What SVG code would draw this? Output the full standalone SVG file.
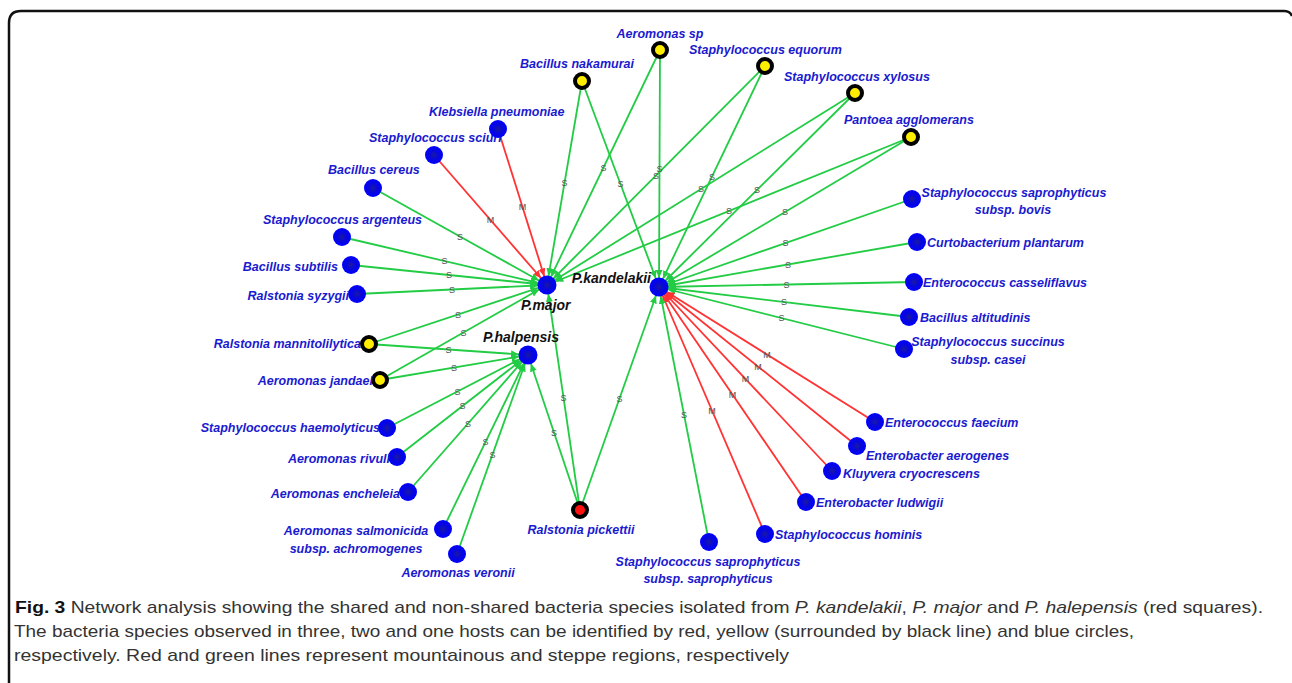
<svg xmlns="http://www.w3.org/2000/svg" width="1292" height="683" viewBox="0 0 1292 683">
<style>
.g{stroke:#22cc44;stroke-width:1.8;fill:none;marker-end:url(#ag)}
.r{stroke:#ff3333;stroke-width:1.8;fill:none;marker-end:url(#ar)}
.el{font-family:"Liberation Sans",Arial,sans-serif;font-size:9px;fill:#555;text-anchor:middle;dominant-baseline:central}
.nl{font-family:"Liberation Sans",Arial,sans-serif;font-size:12.5px;font-weight:bold;font-style:italic;fill:#1a1ad0}
.hl{font-family:"Liberation Sans",Arial,sans-serif;font-size:14px;font-weight:bold;font-style:italic;fill:#111}
.b{fill:url(#bg)}
.y{fill:#ffee00;stroke:#000;stroke-width:4}
.rd{fill:#ff1111;stroke:#000;stroke-width:4}
.cap{font-family:"Liberation Sans",Arial,sans-serif;font-size:17px;fill:#333}
.m{text-anchor:middle}
.e{text-anchor:end}
</style>
<defs>
<radialGradient id="bg"><stop offset="0" stop-color="#1a1aa0"/><stop offset="0.45" stop-color="#0808d8"/><stop offset="1" stop-color="#0000ff"/></radialGradient>
<marker id="ag" markerUnits="userSpaceOnUse" markerWidth="10" markerHeight="8" refX="17" refY="3.5" orient="auto"><path d="M0,0 L8,3.5 L0,7 z" fill="#22cc44"/></marker>
<marker id="ar" markerUnits="userSpaceOnUse" markerWidth="10" markerHeight="8" refX="17" refY="3.5" orient="auto"><path d="M0,0 L8,3.5 L0,7 z" fill="#ff3333"/></marker>
</defs>
<rect width="1292" height="683" fill="#fff"/>
<path d="M9,683 V23 Q9,11 21,11 H1284 Q1290,11 1292,16" fill="none" stroke="#111" stroke-width="2.5"/>

<g id="connectors">
<line class="r" x1="498" y1="129" x2="547" y2="285"/>
<line class="r" x1="434" y1="155" x2="547" y2="285"/>
<line class="g" x1="373" y1="188" x2="547" y2="285"/>
<line class="g" x1="342" y1="237" x2="547" y2="285"/>
<line class="g" x1="351" y1="265" x2="547" y2="285"/>
<line class="g" x1="357" y1="294" x2="547" y2="285"/>
<line class="g" x1="369" y1="344" x2="547" y2="285"/>
<line class="g" x1="380" y1="380" x2="547" y2="285"/>
<line class="g" x1="582" y1="81" x2="547" y2="285"/>
<line class="g" x1="660" y1="50" x2="547" y2="285"/>
<line class="g" x1="765" y1="66" x2="547" y2="285"/>
<line class="g" x1="855" y1="93" x2="547" y2="285"/>
<line class="g" x1="911" y1="137" x2="547" y2="285"/>
<line class="g" x1="580" y1="510" x2="547" y2="285"/>
<line class="g" x1="582" y1="81" x2="659" y2="287"/>
<line class="g" x1="660" y1="50" x2="659" y2="287"/>
<line class="g" x1="765" y1="66" x2="659" y2="287"/>
<line class="g" x1="855" y1="93" x2="659" y2="287"/>
<line class="g" x1="911" y1="137" x2="659" y2="287"/>
<line class="g" x1="912" y1="199" x2="659" y2="287"/>
<line class="g" x1="917" y1="242" x2="659" y2="287"/>
<line class="g" x1="914" y1="282" x2="659" y2="287"/>
<line class="g" x1="909" y1="317" x2="659" y2="287"/>
<line class="g" x1="904" y1="349" x2="659" y2="287"/>
<line class="r" x1="875" y1="422" x2="659" y2="287"/>
<line class="r" x1="857" y1="446" x2="659" y2="287"/>
<line class="r" x1="832" y1="471" x2="659" y2="287"/>
<line class="r" x1="806" y1="502" x2="659" y2="287"/>
<line class="r" x1="765" y1="534" x2="659" y2="287"/>
<line class="g" x1="709" y1="542" x2="659" y2="287"/>
<line class="g" x1="580" y1="510" x2="659" y2="287"/>
<line class="g" x1="369" y1="344" x2="528" y2="355"/>
<line class="g" x1="380" y1="380" x2="528" y2="355"/>
<line class="g" x1="387" y1="428" x2="528" y2="355"/>
<line class="g" x1="397" y1="457" x2="528" y2="355"/>
<line class="g" x1="408" y1="492" x2="528" y2="355"/>
<line class="g" x1="443" y1="529" x2="528" y2="355"/>
<line class="g" x1="457" y1="554" x2="528" y2="355"/>
<line class="g" x1="580" y1="510" x2="528" y2="355"/>
<g>
<text class="el" x="522.5" y="207">M</text>
<text class="el" x="490.5" y="220">M</text>
<text class="el" x="460" y="236.5">S</text>
<text class="el" x="444.5" y="261">S</text>
<text class="el" x="449" y="275">S</text>
<text class="el" x="452" y="289.5">S</text>
<text class="el" x="458" y="314.5">S</text>
<text class="el" x="463.5" y="332.5">S</text>
<text class="el" x="564.5" y="183">S</text>
<text class="el" x="603.5" y="167.5">S</text>
<text class="el" x="656" y="175.5">S</text>
<text class="el" x="701" y="189">S</text>
<text class="el" x="729" y="211">S</text>
<text class="el" x="563.5" y="397.5">S</text>
<text class="el" x="620.5" y="184">S</text>
<text class="el" x="659.5" y="168.5">S</text>
<text class="el" x="712" y="176.5">S</text>
<text class="el" x="757" y="190">S</text>
<text class="el" x="785" y="212">S</text>
<text class="el" x="785.5" y="243">S</text>
<text class="el" x="788" y="264.5">S</text>
<text class="el" x="786.5" y="284.5">S</text>
<text class="el" x="784" y="302">S</text>
<text class="el" x="781.5" y="318">S</text>
<text class="el" x="767" y="354.5">M</text>
<text class="el" x="758" y="366.5">M</text>
<text class="el" x="745.5" y="379">M</text>
<text class="el" x="732.5" y="394.5">M</text>
<text class="el" x="712" y="410.5">M</text>
<text class="el" x="684" y="414.5">S</text>
<text class="el" x="619.5" y="398.5">S</text>
<text class="el" x="448.5" y="349.5">S</text>
<text class="el" x="454" y="367.5">S</text>
<text class="el" x="457.5" y="391.5">S</text>
<text class="el" x="462.5" y="406">S</text>
<text class="el" x="468" y="423.5">S</text>
<text class="el" x="485.5" y="442">S</text>
<text class="el" x="492.5" y="454.5">S</text>
<text class="el" x="554" y="432.5">S</text>
</g>
</g>

<g id="n-aerosp"><circle class="y" cx="660" cy="50" r="7"/><text class="nl m" x="660" y="38">Aeromonas sp</text></g>
<g id="n-nakamurai"><circle class="y" cx="582" cy="81" r="7"/><text class="nl m" x="577" y="68">Bacillus nakamurai</text></g>
<g id="n-equorum"><circle class="y" cx="765" cy="66" r="7"/><text class="nl" x="689" y="54">Staphylococcus equorum</text></g>
<g id="n-xylosus"><circle class="y" cx="855" cy="93" r="7"/><text class="nl" x="784" y="81">Staphylococcus xylosus</text></g>
<g id="n-pantoea"><circle class="y" cx="911" cy="137" r="7"/><text class="nl" x="844" y="124">Pantoea agglomerans</text></g>
<g id="n-sciuri"><circle class="b" cx="434" cy="155" r="9"/><text class="nl" x="369" y="142">Staphylococcus sciuri</text></g>
<g id="n-klebsiella"><circle class="b" cx="498" cy="129" r="9"/><text class="nl" x="429" y="116">Klebsiella pneumoniae</text></g>
<g id="n-cereus"><circle class="b" cx="373" cy="188" r="9"/><text class="nl" x="328" y="174">Bacillus cereus</text></g>
<g id="n-argenteus"><circle class="b" cx="342" cy="237" r="9"/><text class="nl" x="263" y="224">Staphylococcus argenteus</text></g>
<g id="n-subtilis"><circle class="b" cx="351" cy="265" r="9"/><text class="nl e" x="338" y="271">Bacillus subtilis</text></g>
<g id="n-syzygii"><circle class="b" cx="357" cy="294" r="9"/><text class="nl e" x="349" y="300">Ralstonia syzygii</text></g>
<g id="n-mannit"><circle class="y" cx="369" cy="344" r="7"/><text class="nl e" x="361" y="348">Ralstonia mannitolilytica</text></g>
<g id="n-jandaei"><circle class="y" cx="380" cy="380" r="7"/><text class="nl e" x="373" y="385">Aeromonas jandaei</text></g>
<g id="n-haemo"><circle class="b" cx="387" cy="428" r="9"/><text class="nl e" x="380" y="432">Staphylococcus haemolyticus</text></g>
<g id="n-rivuli"><circle class="b" cx="397" cy="457" r="9"/><text class="nl e" x="390" y="463">Aeromonas rivuli</text></g>
<g id="n-encheleia"><circle class="b" cx="408" cy="492" r="9"/><text class="nl e" x="400" y="498">Aeromonas encheleia</text></g>
<g id="n-salmonicida"><circle class="b" cx="443" cy="529" r="9"/><text class="nl m" x="356" y="535">Aeromonas salmonicida</text><text class="nl m" x="356" y="553">subsp. achromogenes</text></g>
<g id="n-veronii"><circle class="b" cx="457" cy="554" r="9"/><text class="nl m" x="458" y="577">Aeromonas veronii</text></g>
<g id="n-pickettii"><circle class="rd" cx="580" cy="510" r="7"/><text class="nl m" x="581" y="534">Ralstonia pickettii</text></g>
<g id="n-sapsap"><circle class="b" cx="709" cy="542" r="9"/><text class="nl m" x="708" y="566">Staphylococcus saprophyticus</text><text class="nl m" x="708" y="583">subsp. saprophyticus</text></g>
<g id="n-hominis"><circle class="b" cx="765" cy="534" r="9"/><text class="nl" x="775" y="539">Staphylococcus hominis</text></g>
<g id="n-ludwigii"><circle class="b" cx="806" cy="502" r="9"/><text class="nl" x="816" y="507">Enterobacter ludwigii</text></g>
<g id="n-kluyvera"><circle class="b" cx="832" cy="471" r="9"/><text class="nl" x="843" y="478">Kluyvera cryocrescens</text></g>
<g id="n-aerogenes"><circle class="b" cx="857" cy="446" r="9"/><text class="nl" x="866" y="460">Enterobacter aerogenes</text></g>
<g id="n-faecium"><circle class="b" cx="875" cy="422" r="9"/><text class="nl" x="885" y="427">Enterococcus faecium</text></g>
<g id="n-succinus"><circle class="b" cx="904" cy="349" r="9"/><text class="nl m" x="988" y="346">Staphylococcus succinus</text><text class="nl m" x="988" y="364">subsp. casei</text></g>
<g id="n-altitudinis"><circle class="b" cx="909" cy="317" r="9"/><text class="nl" x="920" y="322">Bacillus altitudinis</text></g>
<g id="n-casseliflavus"><circle class="b" cx="914" cy="282" r="9"/><text class="nl" x="923" y="287">Enterococcus casseliflavus</text></g>
<g id="n-curtobacterium"><circle class="b" cx="917" cy="242" r="9"/><text class="nl" x="927" y="247">Curtobacterium plantarum</text></g>
<g id="n-bovis"><circle class="b" cx="912" cy="199" r="9"/><text class="nl m" x="1014" y="197">Staphylococcus saprophyticus</text><text class="nl m" x="1013" y="214">subsp. bovis</text></g>

<g id="h-major"><circle class="b" cx="547" cy="285" r="9.5"/><text class="hl" x="521" y="310">P.major</text></g>
<g id="h-kandelakii"><circle class="b" cx="659" cy="287" r="9.5"/><text class="hl e" x="651" y="283">P.kandelakii</text></g>
<g id="h-halpensis"><circle class="b" cx="528" cy="355" r="9.5"/><text class="hl" x="483" y="342">P.halpensis</text></g>

<g id="caption">
<text class="cap" x="15" y="613" textLength="1248" lengthAdjust="spacingAndGlyphs"><tspan font-weight="bold" fill="#111">Fig. 3</tspan> Network analysis showing the shared and non-shared bacteria species isolated from <tspan font-style="italic">P. kandelakii</tspan>, <tspan font-style="italic">P. major</tspan> and <tspan font-style="italic">P. halepensis</tspan> (red squares).</text>
<text class="cap" x="14" y="637" textLength="1120" lengthAdjust="spacingAndGlyphs">The bacteria species observed in three, two and one hosts can be identified by red, yellow (surrounded by black line) and blue circles,</text>
<text class="cap" x="14" y="661" textLength="775" lengthAdjust="spacingAndGlyphs">respectively. Red and green lines represent mountainous and steppe regions, respectively</text>
</g>
</svg>
